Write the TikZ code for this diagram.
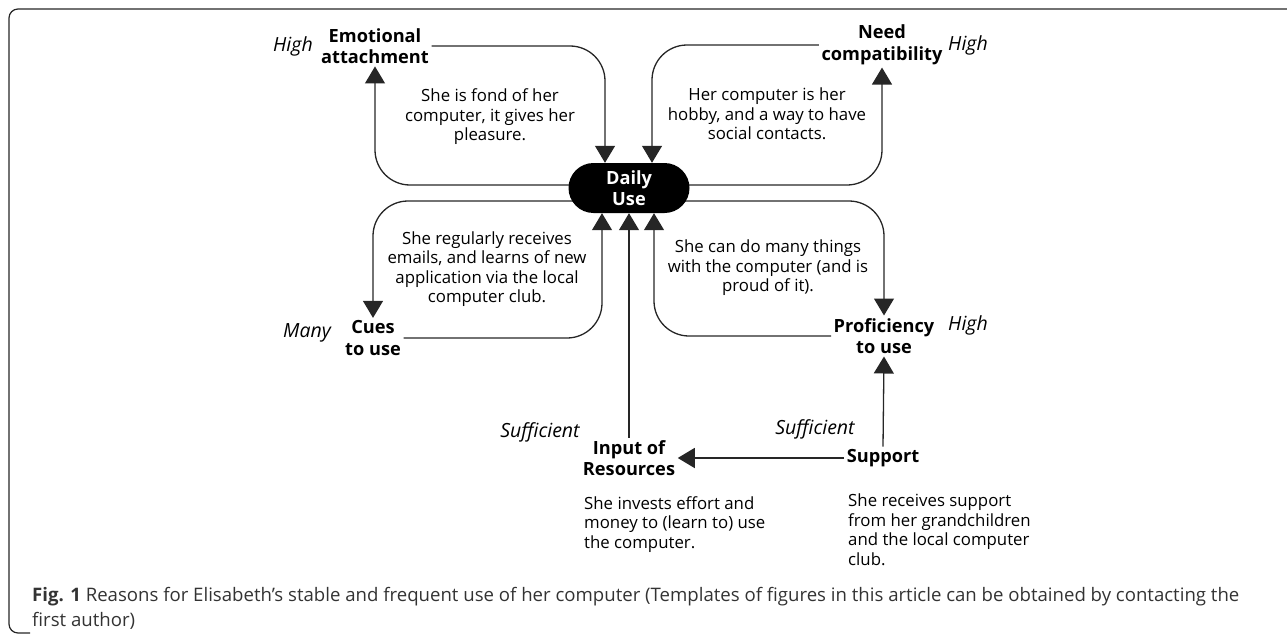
\documentclass[tikz,border=0pt]{standalone}
\usepackage{fontspec}
\setmainfont{Open Sans}
\usetikzlibrary{arrows.meta,backgrounds}
\begin{document}
\begin{tikzpicture}[x=1pt,y=-1pt,
  lbl/.style={font=\fontsize{18.2}{21.5}\selectfont\bfseries, align=center, inner sep=2.5pt},
  qual/.style={font=\fontsize{19.5}{22}\selectfont\itshape, inner sep=0pt},
  desc/.style={font=\fontsize{16.8}{19.5}\selectfont, align=center, inner sep=0pt},
  ldesc/.style={font=\fontsize{16.8}{19.5}\selectfont, align=left, inner sep=0pt, anchor=north west},
  conn/.style={draw=black!85, line width=1.3pt, rounded corners=35pt, -{Triangle[width=20pt,length=17pt]}},
  pill/.style={fill=black, text=white, rounded corners=25pt, minimum width=121pt, minimum height=50pt, inner sep=0pt, align=center, font=\fontsize{18.2}{21.5}\selectfont\bfseries}
]
\useasboundingbox (0,0) rectangle (1287,634);
% frame
\draw[line width=1.2pt, black!85, rounded corners=9pt] (1295,9) -- (9,9) -- (9,633) -- (30,633);

\node[pill] (daily) at (629,188) {Daily\\Use};

\node[lbl] (emo) at (375,46) {Emotional\\attachment};
\node[qual] (h1) at (293,46) {High};
\node[lbl] (need) at (882,45) {Need\\compatibility};
\node[qual] (h2) at (968,45) {High};
\node[lbl] (cues) at (373,338) {Cues\\to use};
\node[qual] (many) at (307,333) {Many};
\node[lbl] (prof) at (884,336) {Proficiency\\to use};
\node[qual] (h3) at (968,325) {High};
\node[lbl] (input) at (629,458) {Input of\\Resources};
\node[qual] (s1) at (540,432) {Sufficient};
\node[lbl] (support) at (883,458) {Support};
\node[qual] (s2) at (815,429) {Sufficient};

\node[desc] (d1) at (490,117) {She is fond of her\\computer, it gives her\\pleasure.};
\node[desc] (d2) at (767,114) {Her computer is her\\hobby, and a way to have\\social contacts.};
\node[desc] (d3) at (487,269) {She regularly receives\\emails, and learns of new\\application via the local\\computer club.};
\node[desc] (d4) at (768,268) {She can do many things\\with the computer (and is\\proud of it).};
\node[ldesc] (d5) at (584,496) {She invests effort and\\money to (learn to) use\\the computer.};
\node[ldesc] (d6) at (848,494) {She receives support\\from her grandchildren\\and the local computer\\club.};

\node[anchor=north west, align=left, inner sep=0pt, text=black!80, font=\fontsize{18.6}{25}\selectfont] (cap) at (32,587)
  {\textbf{Fig. 1} Reasons for Elisabeth’s stable and frequent use of her computer (Templates of figures in this article can be obtained by contacting the\\first author)};

\begin{scope}[on background layer]
\draw[conn] (emo.east) -| ([xshift=-24pt]daily.north);
\draw[conn] ([yshift=3pt]daily.center) -| (emo.south);
\draw[conn] (need.west) -| ([xshift=23pt]daily.north);
\draw[conn] ([yshift=3pt]daily.center) -| (need.south);
\draw[conn] ([yshift=-13pt]daily.center) -| (cues.north);
\draw[conn] (cues.east) -| ([xshift=-27pt]daily.south);
\draw[conn] (input.north) -- (daily.south);
\draw[conn] ([yshift=-13pt]daily.center) -| (prof.north);
\draw[conn] (prof.west) -| ([xshift=25pt]daily.south);
\draw[conn] (support.north) -- (prof.south);
\draw[conn] (support.west) -- (input.east);
\end{scope}
\end{tikzpicture}
\end{document}
